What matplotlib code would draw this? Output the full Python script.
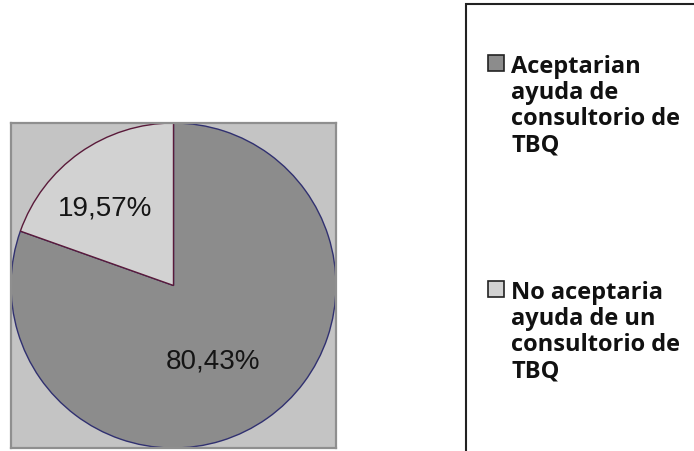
import matplotlib.pyplot as plt
import matplotlib.patches as mpatches
import numpy as np

# data
labels = ['Aceptarian\nayuda de\nconsultorio de\nTBQ',
          'No aceptaria\nayuda de un\nconsultorio de\nTBQ']
values = [80.43, 19.57]
colors = ['#8c8c8c', '#d2d2d2']
edges = ['#303070', '#5a1a3a']

W, H = 694, 452
fig = plt.figure(figsize=(W / 100, H / 100), dpi=100)

ax = fig.add_axes([11 / W, (H - 449) / H, 325 / W, 325 / H])

wedges, _ = ax.pie(values, colors=colors, startangle=90, counterclock=False,
                   radius=1.0, frame=True, wedgeprops=dict(linewidth=1.0))
for w, ec in zip(wedges, edges):
    w.set_edgecolor(ec)
ax.set_facecolor('#c4c4c4')
for s in ax.spines.values():
    s.set_color('#8f8f8f')
    s.set_linewidth(1.6)
ax.set_xlim(-1.0, 1.0)
ax.set_ylim(-1.0, 1.0)
ax.set_xticks([])
ax.set_yticks([])

# percentage labels near the wedge middle
dist = [0.52, 0.64]
turn = [-7.7, 6.0]
for w, v, d, t in zip(wedges, values, dist, turn):
    ang = np.deg2rad((w.theta1 + w.theta2) / 2 + t)
    ax.text(d * np.cos(ang), d * np.sin(ang), f'{v:.2f}%'.replace('.', ','),
            ha='center', va='center', fontsize=20,
            family='Liberation Sans', color='#151515')

# legend frame (runs off the right and bottom edge)
frame = mpatches.Rectangle((466 / W, -0.1), 0.5, (H - 5) / H + 0.1,
                           transform=fig.transFigure, facecolor='white',
                           edgecolor='#222222', linewidth=1.5, zorder=0)
fig.add_artist(frame)

tops = [56, 282]
for lab, col, top in zip(labels, colors, tops):
    sq = mpatches.Rectangle((488 / W, (H - top - 16) / H), 16 / W, 16 / H,
                            transform=fig.transFigure, facecolor=col,
                            edgecolor='#222222', linewidth=1.2)
    fig.add_artist(sq)
    fig.text(511 / W, (H - top + 1) / H, lab, ha='left', va='top',
             fontsize=17, fontweight='bold', family='Open Sans',
             linespacing=1.12, color='#111111')

fig.savefig('out.png', dpi=100)
